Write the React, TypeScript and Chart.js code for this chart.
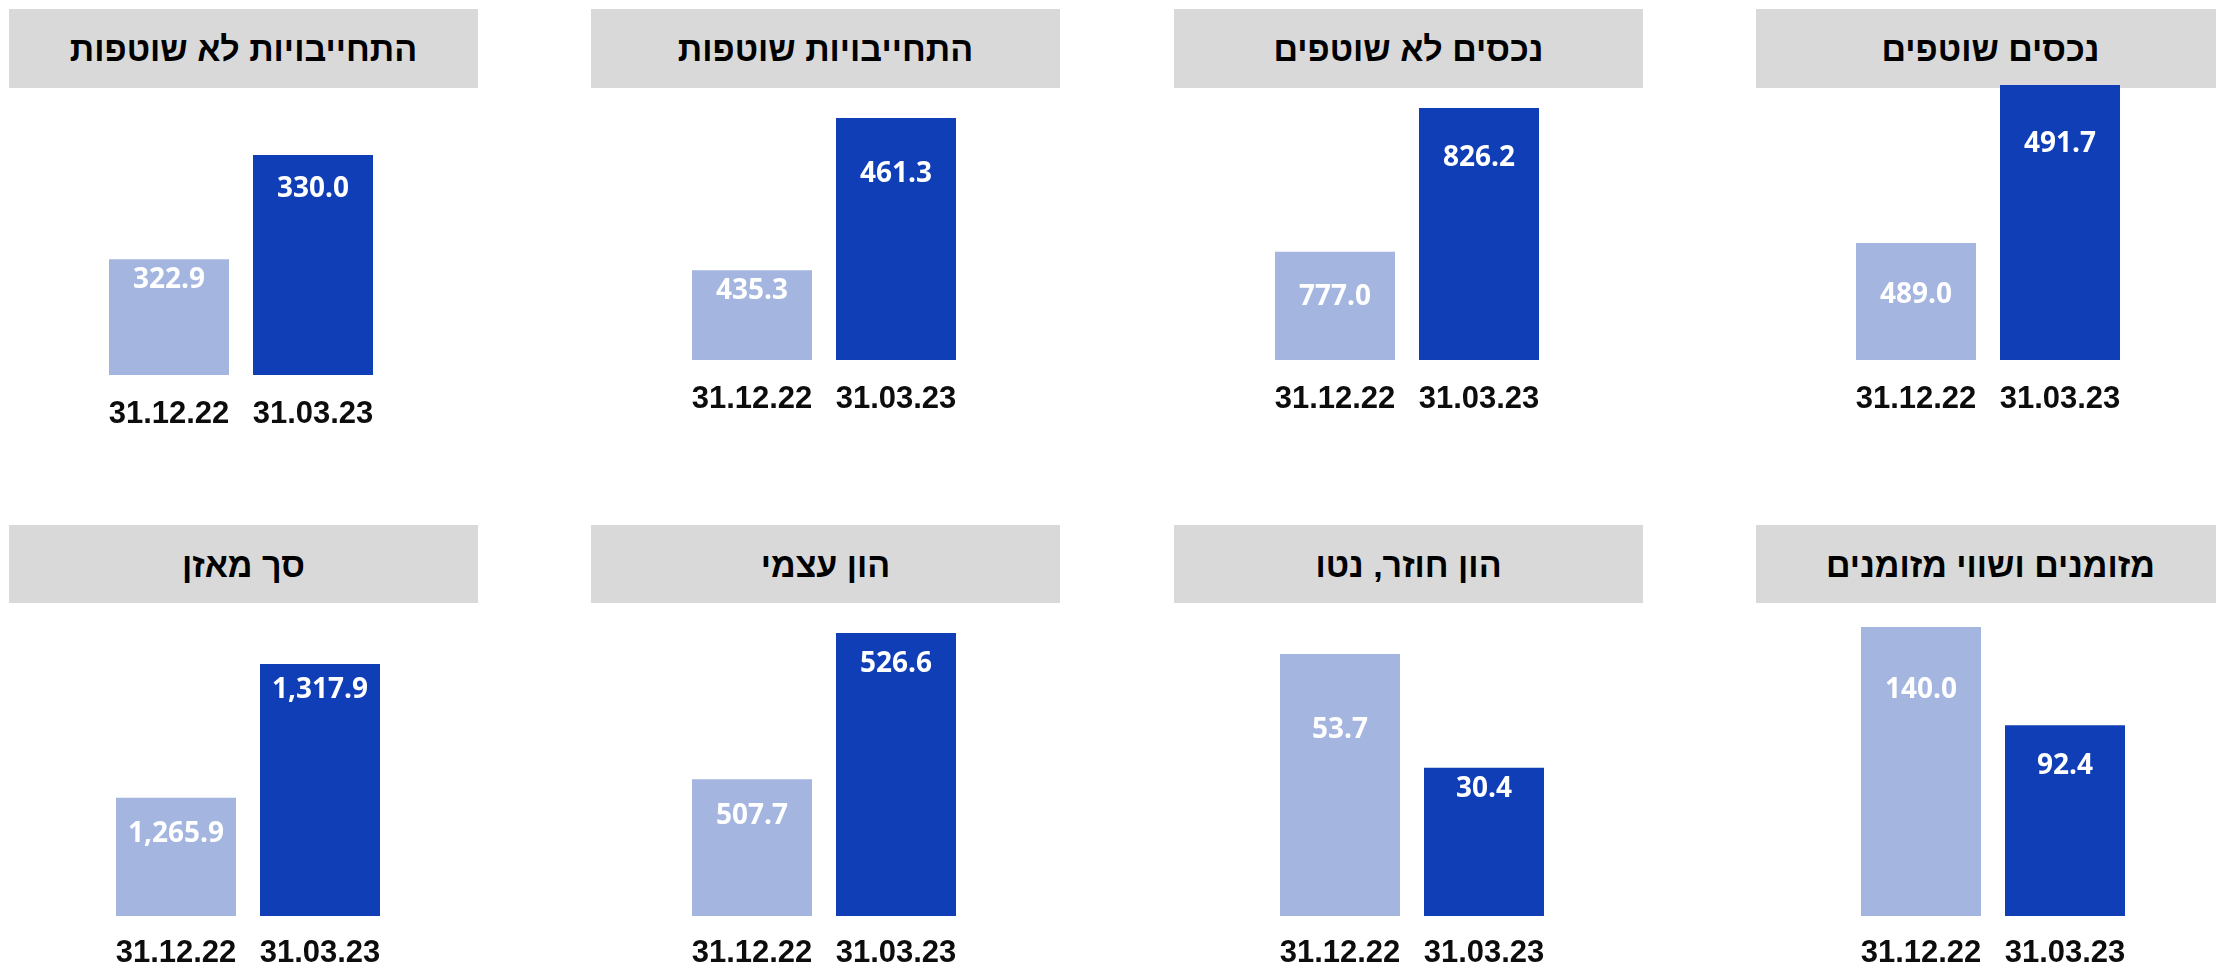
import React, { useEffect, useRef } from 'react';
import { Chart, registerables } from 'chart.js';

Chart.register(...registerables);

// ---- data ----
const panelTitles = [
  'התחייבויות לא שוטפות',
  'התחייבויות שוטפות',
  'נכסים לא שוטפים',
  'נכסים שוטפים',
  'סך מאזן',
  'הון עצמי',
  'הון חוזר, נטו',
  'מזומנים ושווי מזומנים',
];
const dates = ['31.12.22', '31.03.23'];
const valuesDec22 = [322.9, 435.3, 777.0, 489.0, 1265.9, 507.7, 53.7, 140.0];
const valuesMar23 = [330.0, 461.3, 826.2, 491.7, 1317.9, 526.6, 30.4, 92.4];
const axisMin = [315, 420, 740, 487, 1220, 490, 0, 0];
const axisMax = [330.0, 461.3, 826.2, 491.7, 1317.9, 526.6, 53.7, 140.0];

// ---- layout (pixels) ----
const plotLeft = [97, 680, 1263, 1844, 104, 680, 1268, 1849];
const PLOT_W = 288;
const plotTop = [155, 118, 108, 85, 664, 633, 654, 627];
const plotBottom = [375, 360, 360, 360, 916, 916, 916, 916];
const tickPadding = [21, 19];
const labelOffsets = [
  [21.3, 34.5],
  [21, 56],
  [45, 50.5],
  [52, 59.2],
  [36.3, 26],
  [37, 31],
  [76, 21.3],
  [63, 41],
];
const boxLeft = [9, 591, 1174, 1756];
const BOX_W = 469;
const boxTop = [9, 525];
const boxHeight = [79, 78];
const AXIS_H = 80;

const LIGHT = '#A4B5E0';
const DARK = '#0F3EB6';
const BOX = '#D9D9D9';

const fmt = (v: number) =>
  v.toLocaleString('en-US', { minimumFractionDigits: 1, maximumFractionDigits: 1 });

const valueLabels = {
  id: 'valueLabels',
  afterDatasetsDraw(chart: any, _args: any, opts: any) {
    const { ctx } = chart;
    const meta = chart.getDatasetMeta(0);
    ctx.save();
    ctx.font = 'bold 28px "Open Sans"';
    ctx.fillStyle = '#ffffff';
    ctx.textAlign = 'center';
    ctx.textBaseline = 'middle';
    meta.data.forEach((bar: any, j: number) => {
      const v = chart.data.datasets[0].data[j] as number;
      ctx.fillText(fmt(v), bar.x, bar.y + opts.offsets[j]);
    });
    ctx.restore();
  },
};

export default function App() {
  const refs = useRef<(HTMLCanvasElement | null)[]>([]);

  useEffect(() => {
    const charts: Chart[] = [];
    let cancelled = false;
    const build = () => {
      if (cancelled) return;
      for (let i = 0; i < panelTitles.length; i++) {
        const cv = refs.current[i];
        if (!cv) continue;
        const row = Math.floor(i / 4);
        charts.push(
          new Chart(cv, {
            type: 'bar',
            data: {
              labels: dates,
              datasets: [
                {
                  data: [valuesDec22[i], valuesMar23[i]],
                  backgroundColor: [LIGHT, DARK],
                  borderWidth: 0,
                  categoryPercentage: 5 / 6,
                  barPercentage: 1,
                },
              ],
            },
            options: {
              animation: false,
              responsive: false,
              maintainAspectRatio: false,
              layout: { padding: 0 },
              plugins: {
                legend: { display: false },
                tooltip: { enabled: false },
                title: { display: false },
                valueLabels: { offsets: labelOffsets[i] },
              } as any,
              scales: {
                x: {
                  grid: { display: false, drawTicks: false },
                  border: { display: false },
                  ticks: {
                    color: '#0d0d0d',
                    font: { family: '"Liberation Sans", Arial, sans-serif', size: 31, weight: 'bold', lineHeight: 1.2 },
                    padding: tickPadding[row],
                    maxRotation: 0,
                    autoSkip: false,
                  },
                  afterFit: (s: any) => {
                    s.height = AXIS_H;
                    s.paddingLeft = 0;
                    s.paddingRight = 0;
                  },
                },
                y: { display: false, min: axisMin[i], max: axisMax[i] },
              },
            },
            plugins: [valueLabels as any],
          })
        );
      }
    };
    const fontsReady = (document as any).fonts
      ? Promise.all([
          (document as any).fonts.load('bold 28px "Open Sans"'),
          (document as any).fonts.load('bold 31px "Liberation Sans"'),
        ])
      : Promise.resolve();
    fontsReady.then(build, build);
    return () => {
      cancelled = true;
      charts.forEach((c) => c.destroy());
    };
  }, []);

  return (
    <div
      style={{
        position: 'absolute',
        left: 0,
        top: 0,
        width: 2216,
        height: 973,
        overflow: 'hidden',
        background: '#ffffff',
      }}
    >
      {panelTitles.map((t, i) => {
        const col = i % 4;
        const row = Math.floor(i / 4);
        return (
          <div
            key={'t' + i}
            style={{
              position: 'absolute',
              left: boxLeft[col],
              top: boxTop[row],
              width: BOX_W,
              height: boxHeight[row],
              background: BOX,
              display: 'flex',
              alignItems: 'center',
              justifyContent: 'center',
              direction: 'rtl',
              fontFamily: '"Liberation Sans", Arial, sans-serif',
              fontWeight: 'bold',
              fontSize: 34,
              color: '#000000',
              paddingTop: 2,
              boxSizing: 'border-box',
              whiteSpace: 'nowrap',
            }}
          >
            {t}
          </div>
        );
      })}
      {panelTitles.map((_, i) => (
        <canvas
          key={'c' + i}
          ref={(el) => {
            refs.current[i] = el;
          }}
          width={PLOT_W}
          height={plotBottom[i] - plotTop[i] + AXIS_H}
          style={{
            position: 'absolute',
            left: plotLeft[i],
            top: plotTop[i],
            width: PLOT_W,
            height: plotBottom[i] - plotTop[i] + AXIS_H,
          }}
        />
      ))}
    </div>
  );
}
